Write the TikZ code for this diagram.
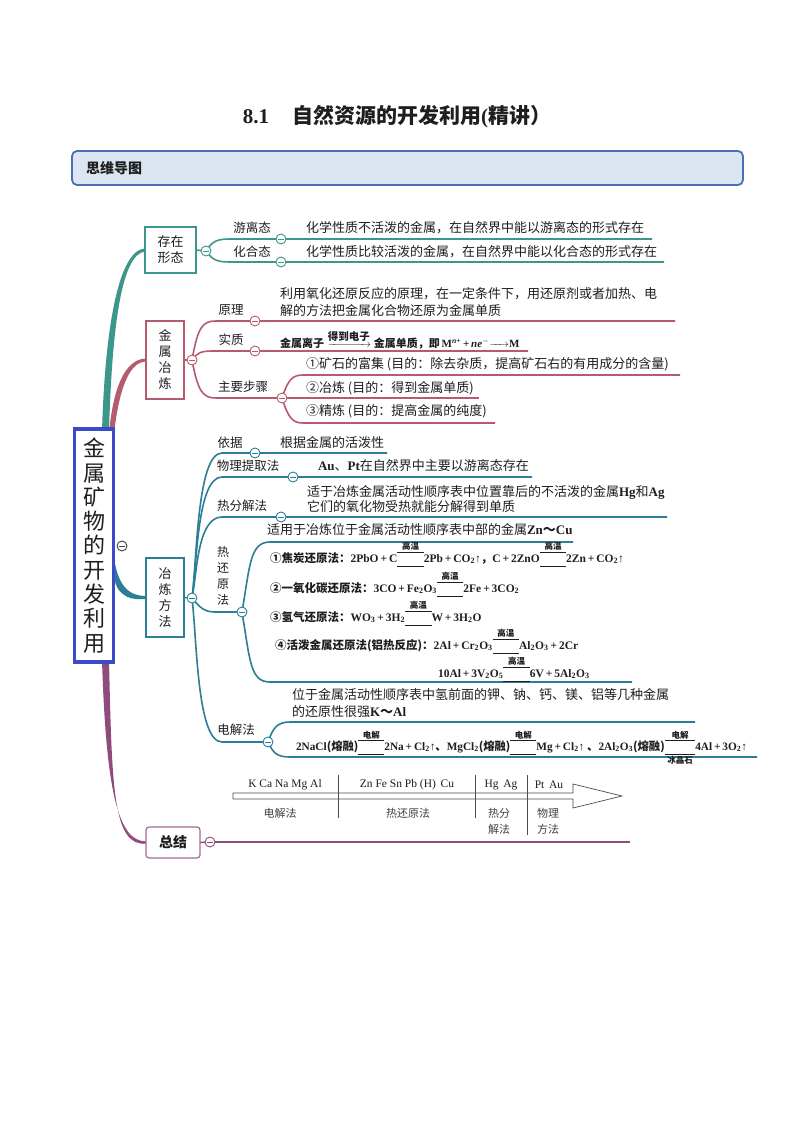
\documentclass[tikz,border=0pt]{standalone}
\usepackage{fontspec}
\setmainfont{Liberation Serif}
\newfontfamily\cjk{Noto Sans CJK SC}
\usetikzlibrary{calc}
\pgfdeclarelayer{background}
\pgfsetlayers{background,main}
\definecolor{cteal}{HTML}{3D968A}
\definecolor{cred}{HTML}{B65A6E}
\definecolor{cblue}{HTML}{2C7D96}
\definecolor{cpurp}{HTML}{8F4B7C}
\definecolor{cpurpbox}{HTML}{A06A96}
\definecolor{cmain}{HTML}{3B4BC8}
\definecolor{hdrfill}{HTML}{DCE6F2}
\definecolor{hdrdraw}{HTML}{4A6FB5}
\definecolor{txt}{HTML}{1E1E1E}
\newcommand{\eqc}[1]{\ensuremath{\mathop{\vcenter{\hbox{\rule{2.3em}{0.5pt}}\kern0.8pt\hbox{\rule{2.3em}{0.5pt}}}}\limits^{\hbox{\fontsize{8.5}{8.5}\selectfont\cjk #1}}}}
\newcommand{\eqcc}[2]{\ensuremath{\mathop{\vcenter{\hbox{\rule{2.7em}{0.5pt}}\kern0.8pt\hbox{\rule{2.7em}{0.5pt}}}}\limits^{\hbox{\fontsize{8.5}{8.5}\selectfont\cjk #1}}_{\hbox{\fontsize{8.5}{8.5}\selectfont\cjk #2}}}}
\newcommand{\arrc}[1]{\ensuremath{\mathop{\hbox to 4.2em{\hskip2pt\rightarrowfill\hskip1pt}}\limits^{\hbox{\fontsize{10.5}{10.5}\selectfont\cjk #1}}}}
\tikzset{
  every node/.style={inner sep=0pt, outer sep=0pt, text=txt},
  zh/.style={font=\cjk\fontsize{13}{16}\selectfont, anchor=west},
  lab/.style={font=\cjk\fontsize{12.5}{15}\selectfont},
  frm/.style={font=\fontsize{11.5}{13}\selectfont\bfseries, anchor=base west},
  mc/.style={circle, draw=#1, fill=white, line width=0.9pt, minimum size=10pt,
    path picture={\draw[#1, line width=0.9pt] ([xshift=-2.6pt]path picture bounding box.center) -- ([xshift=2.6pt]path picture bounding box.center);}},
  br/.style={draw=#1, line width=1.6pt},
  bx/.style={draw=#1, line width=1.2pt, fill=white, align=center, font=\cjk\fontsize{13}{16}\selectfont},
  scal/.style={draw=black!70, line width=0.7pt},
}
\begin{document}
\begin{tikzpicture}[x=1pt,y=-1pt]
\useasboundingbox (0,0) rectangle (800,1132);

% title and header
\node[font=\fontsize{21}{25}\selectfont\bfseries] (title) at (397,117) {8.1\hspace{1.1em}{\cjk 自然资源的开发利用}({\cjk 精讲）}};
\node[draw=hdrdraw, fill=hdrfill, line width=1.8pt, rounded corners=5pt, minimum width=671, minimum height=34, anchor=north west] (hdr) at (72,151) {};
\node[font=\cjk\bfseries\fontsize{14}{16}\selectfont, anchor=west] (hdrt) at (86,168) {思维导图};

% main node and first-level boxes
\node[draw=cmain, line width=3.5pt, fill=white, minimum width=39, minimum height=233, font=\cjk\fontsize{22}{24.3}\selectfont, align=center] (main) at (94,545.5) {金\\属\\矿\\物\\的\\开\\发\\利\\用};
\node[mc=black!75] (mcirc) at (122,546) {};
\node[bx=cteal, minimum width=51, minimum height=46] (b1) at (170.5,250) {存在\\形态};
\node[bx=cred, minimum width=38, minimum height=78] (b2) at (165,360) {金\\属\\冶\\炼};
\node[bx=cblue, minimum width=38, minimum height=79] (b3) at (165,597.5) {冶\\炼\\方\\法};
\node[bx=cpurpbox, rounded corners=3pt, minimum width=54, minimum height=31, font=\cjk\bfseries\fontsize{14}{16}\selectfont] (b4) at (173,842.5) {总结};

% ---------- subtree 1: 存在形态 ----------
\node[mc=cteal] (c1) at (206,251) {};
\node[mc=cteal] (c11) at (281,239) {};
\node[mc=cteal] (c12) at (281,262) {};
\coordinate (e11) at (652,239);
\coordinate (e12) at (664,262);
\node[lab] (l11) at (252,228) {游离态};
\node[lab] (l12) at (252,252) {化合态};
\node[zh] (t11) at (306,228) {化学性质不活泼的金属，在自然界中能以游离态的形式存在};
\node[zh] (t12) at (306,252) {化学性质比较活泼的金属，在自然界中能以化合态的形式存在};

% ---------- subtree 2: 金属冶炼 ----------
\node[mc=cred] (c2) at (192,360) {};
\node[mc=cred] (c21) at (255,321) {};
\node[mc=cred] (c22) at (255,351) {};
\node[mc=cred] (c23) at (282,398) {};
\coordinate (e21) at (675,321);
\coordinate (e22) at (528,351);
\coordinate (e231) at (680,375);
\coordinate (e232) at (479,398);
\coordinate (e233) at (495,423);
\node[lab] (l21) at (231,310) {原理};
\node[lab] (l22) at (231,340) {实质};
\node[lab] (l23) at (243,387) {主要步骤};
\node[zh, align=left, font=\cjk\fontsize{13}{17}\selectfont] (t21) at (280,302.5) {利用氧化还原反应的原理，在一定条件下，用还原剂或者加热、电\\解的方法把金属化合物还原为金属单质};
\node[frm, font=\fontsize{11}{13}\selectfont\bfseries] (t22) at (280,347) {{\cjk 金属离子}\,\arrc{得到电子}\,{\cjk 金属单质，即}\,M\textsuperscript{\textit{n}+}\,+\,\textit{ne}\textsuperscript{$-$}\hbox to 1.8em{\rightarrowfill}M};
\node[zh] (t231) at (306,364) {①矿石的富集 (目的：除去杂质，提高矿石右的有用成分的含量)};
\node[zh] (t232) at (306,388) {②冶炼 (目的：得到金属单质)};
\node[zh] (t233) at (306,411) {③精炼 (目的：提高金属的纯度)};

% ---------- subtree 3: 冶炼方法 ----------
\node[mc=cblue] (c3) at (192,598) {};
\node[mc=cblue] (c31) at (255,453) {};
\node[mc=cblue] (c32) at (293,477) {};
\node[mc=cblue] (c33) at (281,517) {};
\node[mc=cblue] (c34) at (242,612) {};
\node[mc=cblue] (c35) at (268,742) {};
\coordinate (e31) at (387,453);
\coordinate (e32) at (532,477);
\coordinate (e33) at (667,517);
\coordinate (e34t) at (573,542);
\coordinate (e34b) at (632,682);
\coordinate (e35t) at (695,722);
\coordinate (e35b) at (757,757);
\node[lab] (l31) at (230,443) {依据};
\node[lab] (l32) at (248,466) {物理提取法};
\node[lab] (l33) at (242,506) {热分解法};
\node[lab, align=center, font=\cjk\fontsize{12}{16}\selectfont] (l34) at (223,576) {热\\还\\原\\法};
\node[lab] (l35) at (236,730) {电解法};
\node[zh] (t31) at (280,443) {根据金属的活泼性};
\node[zh] (t32) at (318,466) {{\rmfamily\bfseries Au}、{\rmfamily\bfseries Pt}在自然界中主要以游离态存在};
\node[zh, align=left, font=\cjk\fontsize{13}{14.5}\selectfont] (t33) at (307,499) {适于冶炼金属活动性顺序表中位置靠后的不活泼的金属{\rmfamily\bfseries Hg}和{\rmfamily\bfseries Ag}\\它们的氧化物受热就能分解得到单质};
\node[zh] (t34) at (267,530) {适用于冶炼位于金属活动性顺序表中部的金属{\rmfamily\bfseries Zn}{\bfseries ～}{\rmfamily\bfseries Cu}};
\node[frm] (f1) at (270,562) {{\cjk ①焦炭还原法：}2PbO\,+\,C\eqc{高温}2Pb\,+\,CO\textsubscript{2}↑{\cjk ，}C\,+\,2ZnO\eqc{高温}2Zn\,+\,CO\textsubscript{2}↑};
\node[frm] (f2) at (270,592) {{\cjk ②一氧化碳还原法：}3CO\,+\,Fe\textsubscript{2}O\textsubscript{3}\eqc{高温}2Fe\,+\,3CO\textsubscript{2}};
\node[frm] (f3) at (270,621) {{\cjk ③氢气还原法：}WO\textsubscript{3}\,+\,3H\textsubscript{2}\eqc{高温}W\,+\,3H\textsubscript{2}O};
\node[frm] (f4) at (275,649) {{\cjk ④活泼金属还原法(铝热反应)：}2Al\,+\,Cr\textsubscript{2}O\textsubscript{3}\eqc{高温}Al\textsubscript{2}O\textsubscript{3}\,+\,2Cr};
\node[frm] (f5) at (438,677) {10Al\,+\,3V\textsubscript{2}O\textsubscript{5}\eqc{高温}6V\,+\,5Al\textsubscript{2}O\textsubscript{3}};
\node[zh, align=left, font=\cjk\fontsize{13}{17}\selectfont] (t35) at (292,703.5) {位于金属活动性顺序表中氢前面的钾、钠、钙、镁、铝等几种金属\\的还原性很强{\rmfamily\bfseries K}{\bfseries ～}{\rmfamily\bfseries Al}};
\node[frm, font=\fontsize{11.3}{13}\selectfont\bfseries] (f6) at (296,750) {2NaCl{\cjk (熔融)}\eqc{电解}2Na\,+\,Cl\textsubscript{2}↑{\cjk 、}MgCl\textsubscript{2}{\cjk (熔融)}\eqc{电解}Mg\,+\,Cl\textsubscript{2}↑ {\cjk 、}2Al\textsubscript{2}O\textsubscript{3}{\cjk (熔融)}\eqcc{电解}{冰晶石}4Al\,+\,3O\textsubscript{2}↑};

% ---------- subtree 4: 总结 ----------
\node[mc=cpurp] (c4) at (210,842) {};
\coordinate (e4) at (630,842);

% activity series scale
\draw[scal, fill=white] (233,793) -- (573,793) -- (573,784) -- (622,796) -- (573,808) -- (573,799) -- (233,799) -- cycle;
\draw[scal] (338,775) -- (338,818);
\draw[scal] (475,775) -- (475,818);
\draw[scal] (527,775) -- (527,835);
\node[font=\fontsize{11.5}{13}\selectfont] (s1) at (285,785) {K Ca Na Mg Al};
\node[font=\fontsize{11.5}{13}\selectfont] (s2) at (407,785) {Zn Fe Sn Pb (H)\, Cu};
\node[font=\fontsize{11.5}{13}\selectfont] (s3) at (501,785) {Hg\, Ag};
\node[font=\fontsize{11.5}{13}\selectfont] (s4) at (549,785) {Pt\, Au};
\node[font=\cjk\fontsize{11}{13}\selectfont, text=black!75] (m1) at (280,813) {电解法};
\node[font=\cjk\fontsize{11}{13}\selectfont, text=black!75] (m2) at (408,813) {热还原法};
\node[font=\cjk\fontsize{11}{16}\selectfont, text=black!75, align=center] (m3) at (499,821) {热分\\解法};
\node[font=\cjk\fontsize{11}{16}\selectfont, text=black!75, align=center] (m4) at (548,821) {物理\\方法};

% ---------- connectors (behind nodes) ----------
\begin{pgfonlayer}{background}
  \fill[white] (0,0) rectangle (800,1132);
  % first-level trunks (tapered)
  \fill[cteal] ($(main.north)+(8,2)$) .. controls (105,330) and (118,250) .. ($(b1.west)+(0,-1.5)$) -- ($(b1.west)+(0,1.5)$) .. controls (121,254) and (112,330) .. ($(main.north)+(15,2)$) -- cycle;
  \fill[cred] ($(main.north)+(15,4)$) .. controls (113,390) and (124,359) .. ($(b2.west)+(0,-1.5)$) -- ($(b2.west)+(0,1.5)$) .. controls (128,362) and (119,392) .. ($(main.north)+(20,4)$) -- cycle;
  \fill[cblue] ($(main.east)+(0,8)$) .. controls (117,585) and (128,596) .. ($(b3.west)+(0,-1.5)$) -- ($(b3.west)+(0,1.5)$) .. controls (125,601) and (113,592) .. ($(main.east)+(0,22)$) -- cycle;
  \fill[cpurp] ($(main.south)+(8,-2)$) .. controls (106,790) and (118,842) .. ($(b4.west)+(0,-1.2)$) -- ($(b4.west)+(0,1.2)$) .. controls (113,846) and (112,790) .. ($(main.south)+(15,-2)$) -- cycle;
  % subtree 1
  \draw[br=cteal] (b1.east) -- (c1.center);
  \draw[br=cteal] (c1.center) .. controls (213,240) and (218,239) .. (232,239) -- (e11);
  \draw[br=cteal] (c1.center) .. controls (213,261) and (218,262) .. (232,262) -- (e12);
  % subtree 2
  \draw[br=cred] (b2.east) -- (c2.center);
  \draw[br=cred] (c2.center) .. controls (198,326) and (203,321) .. (216,321) -- (e21);
  \draw[br=cred] (c2.center) .. controls (197,353) and (201,351) .. (212,351) -- (e22);
  \draw[br=cred] (c2.center) .. controls (198,392) and (203,398) .. (216,398) -- (c23.center);
  \draw[br=cred] (c23.center) .. controls (288,380) and (292,375) .. (303,375) -- (e231);
  \draw[br=cred] (c23.center) -- (e232);
  \draw[br=cred] (c23.center) .. controls (288,417) and (292,423) .. (303,423) -- (e233);
  % subtree 3
  \draw[br=cblue] (b3.east) -- (c3.center);
  \draw[br=cblue] (c3.center) .. controls (197,560) and (197,453) .. (222,453) -- (e31);
  \draw[br=cblue] (c3.center) .. controls (197,565) and (197,477) .. (222,477) -- (e32);
  \draw[br=cblue] (c3.center) .. controls (197,575) and (197,517) .. (222,517) -- (e33);
  \draw[br=cblue] (c3.center) .. controls (200,608) and (205,612) .. (215,612) -- (c34.center);
  \draw[br=cblue] (c3.center) .. controls (197,640) and (197,742) .. (222,742) -- (c35.center);
  \draw[br=cblue] (c34.center) .. controls (250,565) and (250,542) .. (270,542) -- (e34t);
  \draw[br=cblue] (c34.center) .. controls (250,660) and (250,682) .. (270,682) -- (e34b);
  \draw[br=cblue] (c35.center) .. controls (273,728) and (277,722) .. (290,722) -- (e35t);
  \draw[br=cblue] (c35.center) .. controls (273,753) and (277,757) .. (290,757) -- (e35b);
  % subtree 4
  \draw[br=cpurp] (b4.east) -- (c4.center);
  \draw[br=cpurp] (c4.center) -- (e4);
\end{pgfonlayer}
\end{tikzpicture}
\end{document}
